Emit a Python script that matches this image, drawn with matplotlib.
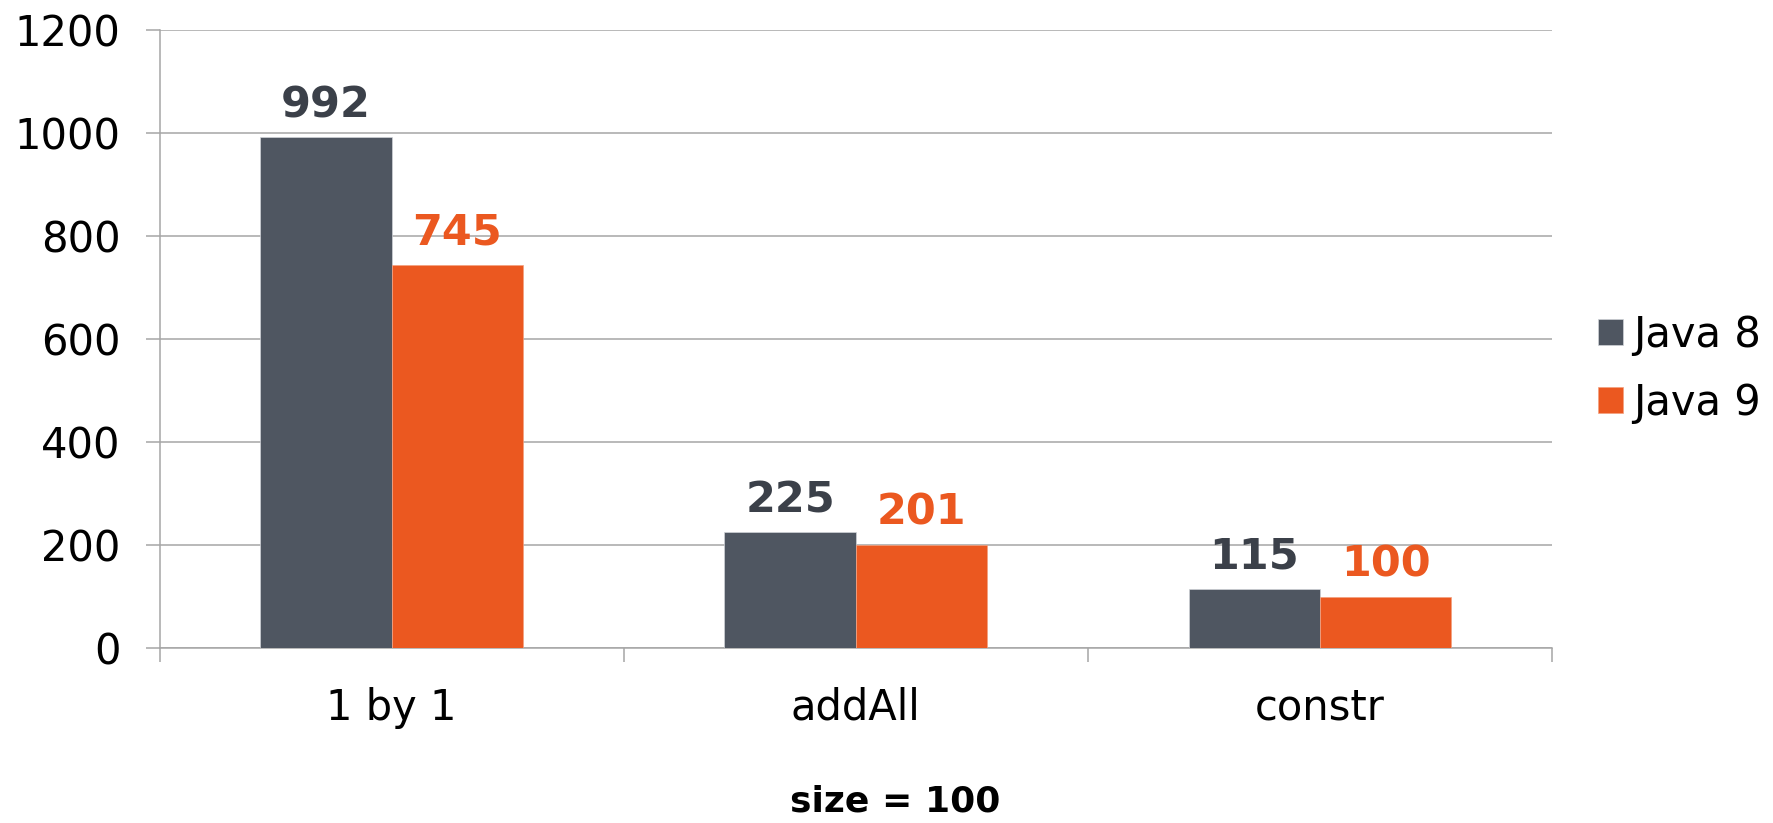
import numpy as np
from matplotlib import pyplot as plt

categories = ["1 by 1", "addAll", "constr"]
java8 = [992, 225, 115]
java9 = [745, 201, 100]
series_names = ["Java 8", "Java 9"]
y_ticks = [0, 200, 400, 600, 800, 1000, 1200]
x_title = "size = 100"

gray = "#4f5661"
orange = "#eb5820"
gray_text = "#3b4049"
grid_color = "#a6a6a6"

plt.rcParams["font.family"] = "DejaVu Sans"

fig = plt.figure(figsize=(17.73, 8.23), dpi=100)
ax = fig.add_axes([0.09, 0.2126, 0.7854, 0.7504])

x = np.arange(len(categories))
width = 0.283

b8 = ax.bar(x - width / 2, java8, width, color=gray, edgecolor="#d0d3d8", linewidth=0.5, label=series_names[0], zorder=3)
b9 = ax.bar(x + width / 2, java9, width, color=orange, edgecolor="#f3a07e", linewidth=0.5, label=series_names[1], zorder=3)

for bars, vals, col in [(b8, java8, gray_text), (b9, java9, orange)]:
    for rect, v in zip(bars, vals):
        ax.annotate(
            str(v),
            xy=(rect.get_x() + rect.get_width() / 2, v),
            xytext=(0, 14.5),
            textcoords="offset points",
            ha="center",
            va="baseline",
            fontsize=31,
            fontweight="bold",
            color=col,
            zorder=4,
        )

ax.set_xlim(-0.5, len(categories) - 0.5)
ax.set_ylim(0, 1200)
ax.set_yticks(y_ticks)
ax.tick_params(axis="y", labelsize=30, length=10, width=1.1, color=grid_color, pad=18)

# category separators as major ticks, names on minor ticks
ax.set_xticks(np.arange(len(categories) + 1) - 0.5)
ax.set_xticklabels([])
ax.set_xticks(x, minor=True)
ax.set_xticklabels(categories, minor=True)
ax.tick_params(axis="x", which="major", length=10, width=1.1, color=grid_color)
ax.tick_params(axis="x", which="minor", length=0, labelsize=30, pad=28)

ax.yaxis.grid(True, color=grid_color, linewidth=1.1, zorder=0)
ax.set_axisbelow(True)
for side in ["top", "right"]:
    ax.spines[side].set_visible(False)
for side in ["left", "bottom"]:
    ax.spines[side].set_color(grid_color)
    ax.spines[side].set_linewidth(1.1)
ax.spines["left"].set_bounds(0, 1200)

fig.legend(
    handles=[b8, b9],
    labels=series_names,
    loc="center left",
    bbox_to_anchor=(0.9015, 0.552),
    frameon=False,
    fontsize=30,
    handlelength=0.58,
    handleheight=0.58,
    handletextpad=0.25,
    labelspacing=0.62,
    borderpad=0,
    borderaxespad=0,
)

fig.text(895 / 1773, 0.006, x_title, ha="center", va="bottom", fontsize=26, fontweight="bold")

fig.savefig("out.png", dpi=100)
